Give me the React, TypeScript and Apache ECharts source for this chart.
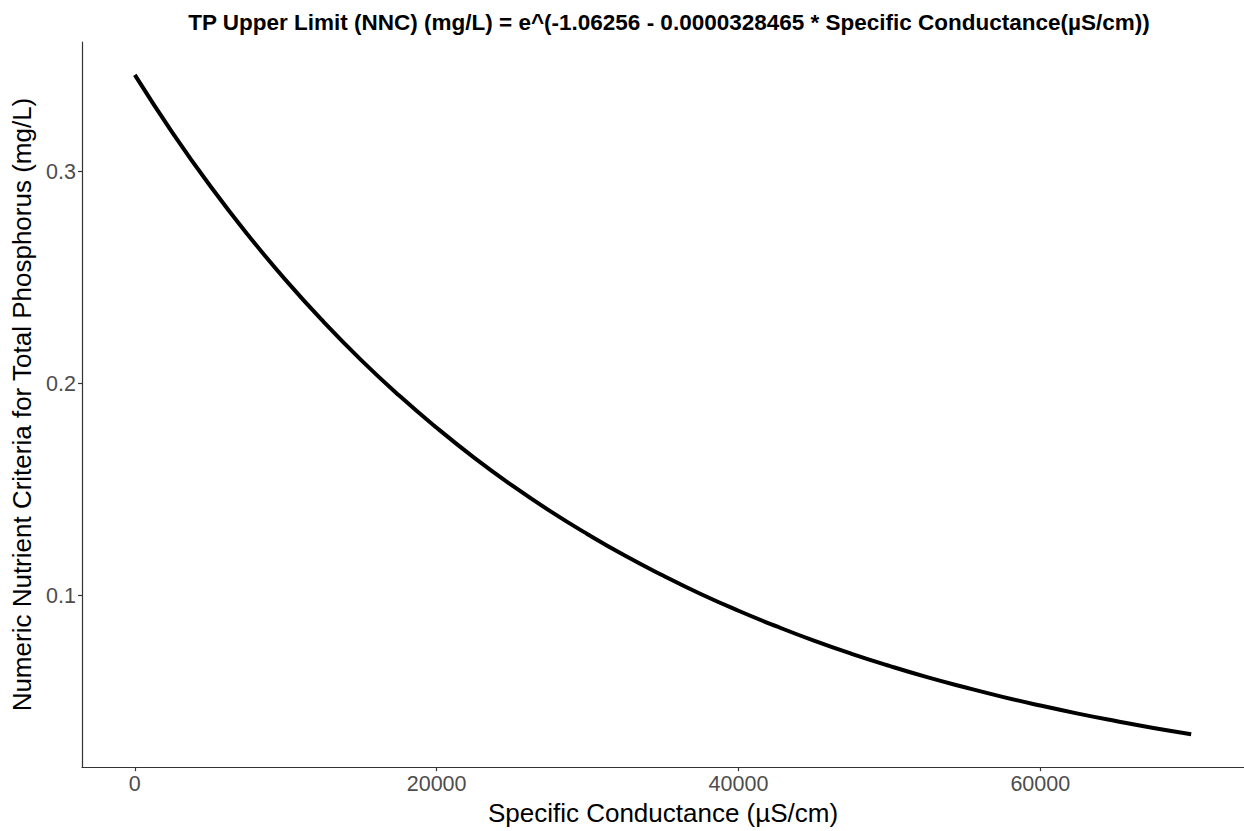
import React, { useEffect, useRef } from "react";
import * as echarts from "echarts";

const conductance = [
  0, 2500, 5000, 7500, 10000, 12500, 15000, 17500, 20000, 22500, 25000, 27500,
  30000, 32500, 35000, 37500, 40000, 42500, 45000, 47500, 50000, 52500, 55000,
  57500, 60000, 62500, 65000, 67500, 70000,
];
const tpLimit = [
  0.3456, 0.3183, 0.2932, 0.2701, 0.2488, 0.2292, 0.2111, 0.1945, 0.1792,
  0.165, 0.152, 0.14, 0.129, 0.1188, 0.1095, 0.1008, 0.0929, 0.0856, 0.0788,
  0.0726, 0.0669, 0.0616, 0.0568, 0.0523, 0.0482, 0.0444, 0.0409, 0.0376,
  0.0347,
];
const xTicks = [0, 20000, 40000, 60000];
const yTicks = [0.1, 0.2, 0.3];

const titleText =
  "TP Upper Limit (NNC) (mg/L) = e^(-1.06256 - 0.0000328465 * Specific Conductance(µS/cm))";
const xName = "Specific Conductance (µS/cm)";
const yName = "Numeric Nutrient Criteria for Total Phosphorus (mg/L)";

export default function App() {
  const ref = useRef<HTMLDivElement>(null);
  useEffect(() => {
    if (!ref.current) return;
    const chart = echarts.init(ref.current, null, { renderer: "svg" });
    const font = "'Liberation Sans', Arial, sans-serif";
    chart.setOption({
      animation: false,
      backgroundColor: "#ffffff",
      title: {
        text: titleText,
        left: 664,
        textAlign: "center",
        top: 6,
        textStyle: { fontFamily: font, fontWeight: "bold", fontSize: 22.5, color: "#000" },
      },
      grid: { left: 82, top: 42, width: 1166, height: 730, containLabel: false },
      xAxis: {
        type: "value",
        min: -3500,
        max: 73500,
        name: xName,
        nameLocation: "middle",
        nameGap: 31,
        nameTextStyle: { fontFamily: font, fontSize: 26, color: "#000" },
        splitLine: { show: false },
        axisLine: { show: true, onZero: false, lineStyle: { color: "#333", width: 1.2 } },
        axisTick: {
          show: true,
          length: 4,
          customValues: xTicks,
          lineStyle: { color: "#333", width: 1.2 },
        },
        axisLabel: {
          customValues: xTicks,
          fontFamily: font,
          fontSize: 21.5,
          color: "#4D4D4D",
          margin: 6,
          formatter: (v: number) => String(v),
        },
      },
      yAxis: {
        type: "value",
        min: 0.01917,
        max: 0.3611,
        name: yName,
        nameLocation: "middle",
        nameGap: 44,
        nameRotate: 90,
        nameTextStyle: { fontFamily: font, fontSize: 26, color: "#000" },
        splitLine: { show: false },
        axisLine: { show: true, onZero: false, lineStyle: { color: "#333", width: 1.2 } },
        axisTick: {
          show: true,
          length: 4,
          customValues: yTicks,
          lineStyle: { color: "#333", width: 1.2 },
        },
        axisLabel: {
          customValues: yTicks,
          fontFamily: font,
          fontSize: 21.5,
          color: "#4D4D4D",
          margin: 6,
          formatter: (v: number) => v.toFixed(1),
        },
      },
      series: [
        {
          type: "line",
          data: conductance.map((x, i) => [x, tpLimit[i]]),
          showSymbol: false,
          smooth: true,
          lineStyle: { color: "#000", width: 4 },
        },
      ],
    });
    return () => chart.dispose();
  }, []);
  return (
    <div
      ref={ref}
      style={{ position: "absolute", left: 0, top: 0, width: 1244, height: 831 }}
    />
  );
}
